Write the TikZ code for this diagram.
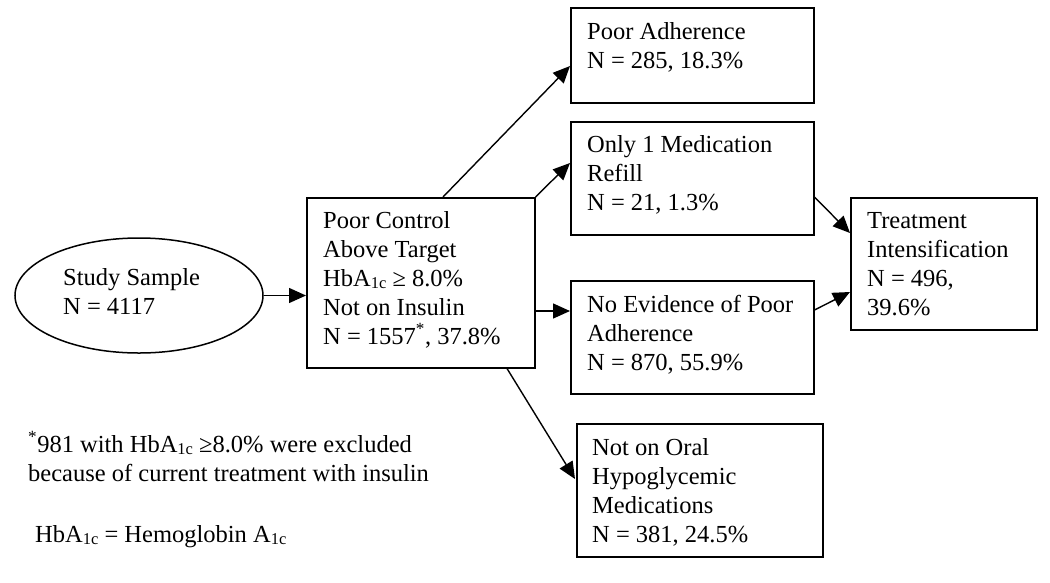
\documentclass[tikz,border=0pt]{standalone}
\usepackage{fontspec}
\setmainfont{Liberation Serif}
\usetikzlibrary{arrows.meta,calc,shapes.geometric}
\newcommand\sbc{\raisebox{-0.1em}{\fontsize{16.5}{16.5}\selectfont 1c}}
\newcommand\lns[1]{\begin{tabular}[t]{@{}l@{}}#1\end{tabular}}
\begin{document}
\begin{tikzpicture}[x=1pt,y=-1pt,
  box/.style={draw,line width=1.5pt,inner sep=0pt,anchor=north west},
  txt/.style={inner sep=0pt,anchor=base west,font=\fontsize{24.5}{29}\selectfont},
  arr/.style={line width=1.4pt,-{Triangle[length=17pt,width=15pt]}}]
\useasboundingbox (0,0) rectangle (1050,582);
% shapes
\node[draw,ellipse,line width=1.5pt,inner sep=0pt,minimum width=248pt,minimum height=115pt] (ss) at (139,295.5) {};
\node[box,minimum width=228pt,minimum height=170pt] (pc) at (306,197) {};
\node[box,minimum width=243pt,minimum height=95pt] (pa) at (570,7) {};
\node[box,minimum width=243pt,minimum height=113pt] (om) at (570,121) {};
\node[box,minimum width=186pt,minimum height=132pt] (ti) at (850,197) {};
\node[box,minimum width=243pt,minimum height=113pt] (ne) at (570,280) {};
\node[box,minimum width=246pt,minimum height=133pt] (no) at (576,423) {};
% texts
\node[txt] (ssT) at (63,285) {\lns{Study Sample\\N = 4117}};
\node[txt] (pcT) at (323,228) {\lns{Poor Control\\Above Target\\HbA\sbc{} ≥ 8.0\%\\Not on Insulin\\N = 1557\textsuperscript{*}, 37.8\%}};
\node[txt] (paT) at (587,39) {\lns{Poor Adherence\\N = 285, 18.3\%}};
\node[txt] (omT) at (587,152) {\lns{Only 1 Medication\\Refill\\N = 21, 1.3\%}};
\node[txt] (tiT) at (867,228) {\lns{Treatment\\Intensification\\N = 496,\\39.6\%}};
\node[txt] (neT) at (587,312) {\lns{No Evidence of Poor\\Adherence\\N = 870, 55.9\%}};
\node[txt] (noT) at (592,455) {\lns{Not on Oral\\Hypoglycemic\\Medications\\N = 381, 24.5\%}};
\node[txt] (f1) at (28,452) {\lns{\textsuperscript{*}981 with HbA\sbc{} ≥8.0\% were excluded\\because of current treatment with insulin}};
\node[txt] (f2) at (35,542) {HbA\sbc{} = Hemoglobin A\sbc};
% connectors
\draw[arr] (ss.east) -- (ss.east -| pc.west);
\draw[arr] ($(pc.north west)+(137,0)$) -- ($(pa.north west)+(0,59)$);
\draw[arr] (pc.north east) -- ($(om.north west)+(0,42)$);
\draw[arr] ($(pc.north east)+(0,114)$) coordinate (pcE) -- (pcE -| ne.west);
\draw[arr] ($(pc.south west)+(201,0)$) -- ($(no.north west)+(-1,56)$);
\draw[arr] ($(om.north east)+(0,76)$) -- ($(ti.north west)+(0,36)$);
\draw[arr] ($(ne.north east)+(0,30)$) -- ($(ti.north west)+(0,95)$);
\end{tikzpicture}
\end{document}
